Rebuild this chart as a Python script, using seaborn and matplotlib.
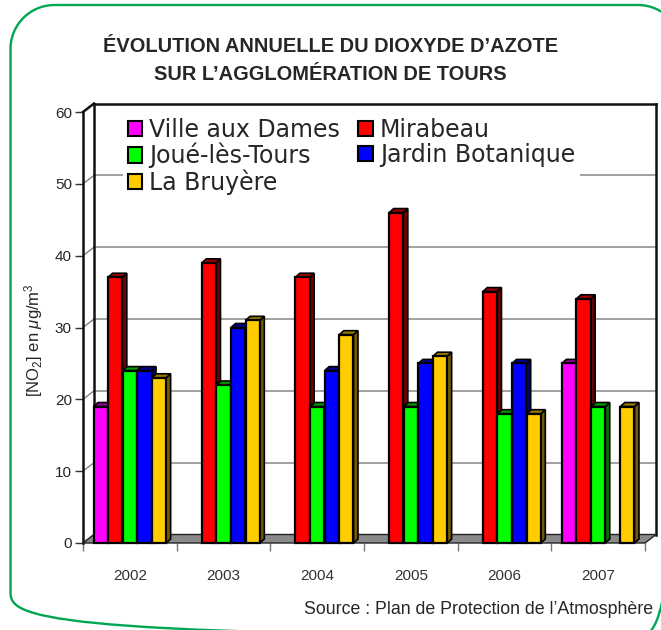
import numpy as np
import pandas as pd
import matplotlib
matplotlib.use("Agg")
import matplotlib.pyplot as plt
import seaborn as sns
from matplotlib.patches import Polygon, Patch, PathPatch
from matplotlib.path import Path

# Annual NO2 means (µg/m3) per monitoring station
years = ["2002", "2003", "2004", "2005", "2006", "2007"]
stations = ["Ville aux Dames", "Mirabeau", "Joué-lès-Tours",
            "Jardin Botanique", "La Bruyère"]
ville_aux_dames = [19, np.nan, np.nan, np.nan, np.nan, 25]
mirabeau = [37, 39, 37, 46, 35, 34]
joue_les_tours = [24, 22, 19, 19, 18, 19]
jardin_botanique = [24, 30, 24, 25, 25, np.nan]
la_bruyere = [23, 31, 29, 26, 18, 19]
station_colors = ["#FF00FF", "#FF0000", "#00FF00", "#0000FF", "#FFCC00"]
y_ticks = [0, 10, 20, 30, 40, 50, 60]

series = [ville_aux_dames, mirabeau, joue_les_tours, jardin_botanique, la_bruyere]
df = pd.DataFrame(
    [(y, s, v) for s, vals in zip(stations, series) for y, v in zip(years, vals)],
    columns=["year", "station", "value"],
)

sns.set_style("white")
plt.rcParams["font.family"] = ["Liberation Sans", "DejaVu Sans"]
plt.rcParams["mathtext.fontset"] = "custom"
plt.rcParams["mathtext.rm"] = "Liberation Sans"
plt.rcParams["mathtext.it"] = "Liberation Sans:italic"

W, H, DPI = 661, 630, 100
fig = plt.figure(figsize=(W / DPI, H / DPI), dpi=DPI)

# front plane of the pseudo-3D plot, in pixels
x_left, x_right, y_bottom, y_top = 83, 645, 543, 112
ax = fig.add_axes([x_left / W, (H - y_bottom) / H,
                   (x_right - x_left) / W, (y_bottom - y_top) / H])
ax.set_xlim(-0.5, 5.5)
ax.set_ylim(0, 60)

px_x = (x_right - x_left) / 6.0
px_y = (y_bottom - y_top) / 60.0
# depth of the back wall and of each bar, converted to data units
wall_dx, wall_dy = 11 / px_x, 8.5 / px_y
bar_dx, bar_dy = 4.5 / px_x, 4 / px_y

sns.barplot(data=df, x="year", y="value", hue="station", order=years,
            hue_order=stations, palette=station_colors, saturation=1,
            width=0.78, gap=0.03, edgecolor="black", linewidth=1.6,
            errorbar=None, legend=False, ax=ax)
ax.set_xlim(-0.5, 5.5)
ax.set_ylim(0, 60)

# floor
floor = Polygon([(-0.5, 0), (5.5, 0), (5.5 + wall_dx, wall_dy),
                 (-0.5 + wall_dx, wall_dy)], closed=True,
                facecolor="#8a8a8a", edgecolor="#222222", lw=1.0,
                zorder=1, clip_on=False)
ax.add_patch(floor)

# back wall gridlines and left wall diagonals
for yv in y_ticks[1:-1]:
    ax.plot([-0.5 + wall_dx, 5.5 + wall_dx], [yv + wall_dy, yv + wall_dy],
            color="#9a9a9a", lw=1.3, zorder=0.5, clip_on=False)
for yv in y_ticks[:-1]:
    ax.plot([-0.5, -0.5 + wall_dx], [yv, yv + wall_dy],
            color="#777777", lw=0.9, zorder=0.5, clip_on=False)

# wall frame
frame_kw = dict(color="#111111", lw=1.8, zorder=0.8, clip_on=False,
                solid_capstyle="projecting")
ax.plot([-0.5 + wall_dx, 5.5 + wall_dx], [60 + wall_dy] * 2, **frame_kw)
ax.plot([5.5 + wall_dx] * 2, [wall_dy, 60 + wall_dy], **frame_kw)
ax.plot([-0.5 + wall_dx] * 2, [wall_dy, 60 + wall_dy], **frame_kw)
ax.plot([-0.5, -0.5 + wall_dx], [60, 60 + wall_dy], **frame_kw)

# give the bars their top and side faces
bars = [p for p in ax.patches if p is not floor and np.isfinite(p.get_height())
        and p.get_height() > 0]
bars.sort(key=lambda p: p.get_x())
for i, p in enumerate(bars):
    x0, w, h = p.get_x(), p.get_width(), p.get_height()
    base = np.array(p.get_facecolor()[:3])
    dark = tuple(base * 0.45)
    mid = tuple(base * 0.6)
    top = Polygon([(x0, h), (x0 + w, h), (x0 + w + bar_dx, h + bar_dy),
                   (x0 + bar_dx, h + bar_dy)], closed=True,
                  facecolor=mid, edgecolor="black", lw=1.2,
                  zorder=3 + 2 * i, clip_on=False)
    side = Polygon([(x0 + w, 0), (x0 + w + bar_dx, bar_dy),
                    (x0 + w + bar_dx, h + bar_dy), (x0 + w, h)], closed=True,
                   facecolor=dark, edgecolor="black", lw=1.2,
                   zorder=3 + 2 * i, clip_on=False)
    ax.add_patch(side)
    ax.add_patch(top)
    p.set_zorder(4 + 2 * i)
    p.set_clip_on(False)

# axes styling
for s in ["top", "right", "bottom"]:
    ax.spines[s].set_visible(False)
ax.spines["left"].set_linewidth(1.8)
ax.spines["left"].set_color("#111111")
ax.spines["left"].set_zorder(0.9)
ax.set_yticks(y_ticks)
ax.tick_params(axis="y", length=6, width=1, color="#333333", labelsize=11,
               pad=2, left=True)
ax.set_xticks(range(len(years)))
ax.set_xticklabels(years)
ax.set_xticks(np.arange(-0.5, 6.0, 1.0), minor=True)
ax.tick_params(axis="x", which="major", length=0, pad=19, labelsize=11,
               labelcolor="#333333")
ax.tick_params(axis="x", which="minor", length=6, width=1, color="#777777",
               bottom=True)
ax.set_xlabel("")
ax.set_ylabel(r"[NO$_2$] en $\mu$g/m$^3$", fontsize=12)
ax.yaxis.set_label_coords(-0.068, 0.47)

# legend on the back wall
handles = [Patch(facecolor=c, edgecolor="black", lw=1.5) for c in station_colors]
order = [0, 2, 4, 1, 3]
leg = ax.legend([handles[k] for k in order], [stations[k] for k in order],
                ncol=2, loc="upper left",
                bbox_to_anchor=(123 / W, 1 - 113 / H), bbox_transform=fig.transFigure,
                frameon=True, fancybox=False, framealpha=1, facecolor="white",
                edgecolor="none", borderpad=0.2, labelspacing=0.04,
                handlelength=0.62, handleheight=0.62, handletextpad=0.3,
                columnspacing=0.75, borderaxespad=0,
                prop={"family": "DejaVu Sans", "size": 17})
leg.set_zorder(2)

# title and source
title_font = ["Liberation Sans Narrow", "Liberation Sans", "DejaVu Sans"]
fig.text(0.5, 1 - 47 / H, "ÉVOLUTION ANNUELLE DU DIOXYDE D’AZOTE",
         ha="center", va="center", fontsize=14.4, fontweight="bold",
         family=title_font)
fig.text(0.5, 1 - 75 / H, "SUR L’AGGLOMÉRATION DE TOURS",
         ha="center", va="center", fontsize=14.4, fontweight="bold",
         family=title_font)
fig.text(653 / W, 1 - 610 / H, "Source : Plan de Protection de l’Atmosphère",
         ha="right", va="center", fontsize=12.8)

# rounded green frame; its right and bottom sides fall just outside the canvas
bx0, bx1, by0, by1, rad = 10.5, 682.0, -6.0, 625.0, 44.0
k = 0.5523 * rad
verts = [(bx0 + rad, by1), (bx1 - rad, by1),
         (bx1 - rad + k, by1), (bx1, by1 - rad + k), (bx1, by1 - rad),
         (bx1, by0 + rad),
         (bx1, by0 + rad - k), (bx1 - rad + k, by0), (bx1 - rad, by0),
         (bx0 + rad, by0),
         (bx0 + rad - k, by0), (bx0, by0 + rad - k), (bx0, by0 + rad),
         (bx0, by1 - rad),
         (bx0, by1 - rad + k), (bx0 + rad - k, by1), (bx0 + rad, by1)]
codes = ([Path.MOVETO, Path.LINETO] + [Path.CURVE4] * 3 + [Path.LINETO]
         + [Path.CURVE4] * 3 + [Path.LINETO] + [Path.CURVE4] * 3
         + [Path.LINETO] + [Path.CURVE4] * 3)
verts = [(vx / W, vy / H) for vx, vy in verts]
border = PathPatch(Path(verts, codes), transform=fig.transFigure,
                   facecolor="none", edgecolor="#00A651", lw=1.7, clip_on=False)
fig.add_artist(border)

fig.savefig("out.png", dpi=DPI)
